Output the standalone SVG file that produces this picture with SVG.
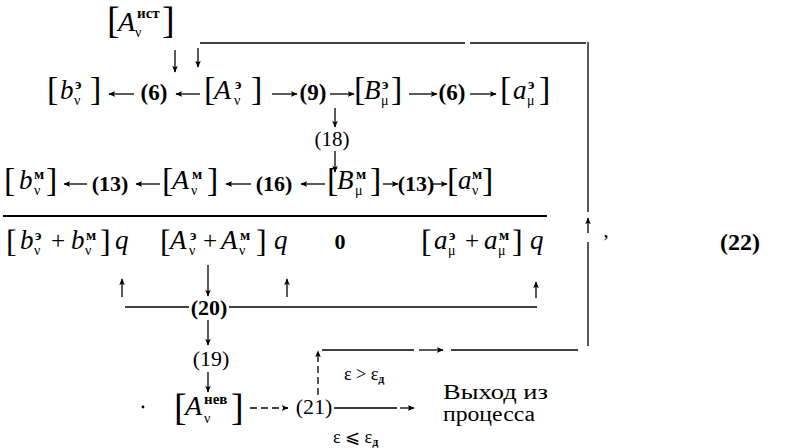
<svg xmlns="http://www.w3.org/2000/svg" width="793" height="448" viewBox="0 0 793 448">
<defs>
<marker id="ah" viewBox="0 0 10 10" refX="9" refY="5" markerWidth="7" markerHeight="7" markerUnits="userSpaceOnUse" orient="auto"><path d="M0,1 L10,5 L0,9 L2.5,5 z" fill="#000"/></marker>
<style>
text{font-family:"Liberation Serif","DejaVu Serif",serif;fill:#000}
.n{font-size:22px;font-weight:bold;text-anchor:middle}
.r{font-size:22px;text-anchor:middle}
.v{font-size:27px;font-style:italic}
.sp{font-size:15px;font-weight:bold}
.sb{font-size:14px}
.bk{font-size:34px}
.op{font-size:25px;text-anchor:middle}
.ln{stroke:#000;stroke-width:1.3;fill:none}
.ar{marker-end:url(#ah)}
.ds{stroke-dasharray:7 4}
.eps{font-size:18px}
.ru{font-size:20px}
</style>
</defs>
<rect width="793" height="448" fill="#fff"/>

<g id="A_ist"><text class="bk" x="107" y="33" style="font-size:38px">[</text><text class="v" x="118" y="31" style="font-size:28px">A</text><text class="sp" x="137" y="18">ист</text><text class="sb" x="135" y="37">ν</text><text class="bk" x="162" y="33" style="font-size:38px">]</text></g>

<g id="b_e"><text class="bk" x="47" y="100">[</text><text class="v" x="60" y="99">b</text><text class="sp" x="75" y="89">э</text><text class="sb" x="74" y="105">ν</text><text class="bk" x="90" y="100">]</text></g>
<g id="n6a"><text class="n" x="154" y="100" style="font-size:23px">(6)</text></g>
<g id="A_e"><text class="bk" x="204" y="100">[</text><text class="v" x="214" y="99" style="font-size:28px">A</text><text class="sp" x="235" y="89">э</text><text class="sb" x="234" y="105">ν</text><text class="bk" x="251" y="100">]</text></g>
<g id="n9"><text class="n" x="313" y="100" style="font-size:23px">(9)</text></g>
<g id="B_e"><text class="bk" x="354" y="100">[</text><text class="v" x="364" y="99">B</text><text class="sp" x="382" y="89">э</text><text class="sb" x="381" y="105">μ</text><text class="bk" x="391" y="100">]</text></g>
<g id="n6b"><text class="n" x="452" y="100" style="font-size:23px">(6)</text></g>
<g id="a_e"><text class="bk" x="500" y="100">[</text><text class="v" x="513" y="99">a</text><text class="sp" x="528" y="89">э</text><text class="sb" x="527" y="105">μ</text><text class="bk" x="539" y="100">]</text></g>

<g id="n18"><text class="r" x="332" y="146" style="font-size:21px">(18)</text></g>

<g id="b_m"><text class="bk" x="4" y="191">[</text><text class="v" x="19" y="189">b</text><text class="sp" x="34" y="179">м</text><text class="sb" x="34" y="195">ν</text><text class="bk" x="46" y="191">]</text></g>
<g id="n13a"><text class="n" x="110" y="191">(13)</text></g>
<g id="A_m"><text class="bk" x="162" y="191">[</text><text class="v" x="172" y="189" style="font-size:28px">A</text><text class="sp" x="192" y="179">м</text><text class="sb" x="191" y="195">ν</text><text class="bk" x="207" y="191">]</text></g>
<g id="n16"><text class="n" x="274" y="191">(16)</text></g>
<g id="B_m"><text class="bk" x="327" y="191">[</text><text class="v" x="337" y="189">B</text><text class="sp" x="356" y="179">м</text><text class="sb" x="355" y="195">μ</text><text class="bk" x="370" y="191">]</text></g>
<g id="n13b"><text class="n" x="416" y="191">(13)</text></g>
<g id="a_m"><text class="bk" x="447" y="191">[</text><text class="v" x="458" y="189">a</text><text class="sp" x="472" y="179">м</text><text class="sb" x="472" y="195">ν</text><text class="bk" x="482" y="191">]</text></g>

<g id="bar"><line x1="3" y1="216" x2="547" y2="216" stroke="#000" stroke-width="2.2"/></g>

<g id="sum_b"><text class="bk" x="6" y="252" style="font-size:32px">[</text><text class="v" x="20" y="249">b</text><text class="sp" x="35" y="240">э</text><text class="sb" x="34" y="255">ν</text><text class="op" x="58" y="249">+</text><text class="v" x="71" y="249">b</text><text class="sp" x="86" y="240">м</text><text class="sb" x="85" y="255">ν</text><text class="bk" x="100" y="252" style="font-size:32px">]</text><text class="v" x="115" y="249">q</text></g>
<g id="sum_A"><text class="bk" x="160" y="252" style="font-size:32px">[</text><text class="v" x="170" y="249">A</text><text class="sp" x="190" y="240">э</text><text class="sb" x="189" y="255">ν</text><text class="op" x="210" y="249">+</text><text class="v" x="221" y="249">A</text><text class="sp" x="240" y="240">м</text><text class="sb" x="239" y="255">ν</text><text class="bk" x="256" y="252" style="font-size:32px">]</text><text class="v" x="274" y="249">q</text></g>
<g id="zero"><text class="n" x="340" y="249">0</text></g>
<g id="sum_a"><text class="bk" x="421" y="252" style="font-size:32px">[</text><text class="v" x="434" y="249">a</text><text class="sp" x="449" y="240">э</text><text class="sb" x="448" y="255">μ</text><text class="op" x="472" y="249">+</text><text class="v" x="484" y="249">a</text><text class="sp" x="499" y="240">м</text><text class="sb" x="498" y="255">μ</text><text class="bk" x="512" y="252" style="font-size:32px">]</text><text class="v" x="530" y="249">q</text></g>

<g id="n20"><text class="n" x="209" y="315">(20)</text></g>
<g id="n19"><text class="r" x="211" y="366">(19)</text></g>
<g id="dot"><circle cx="143" cy="407" r="1.4" fill="#000"/></g>
<g id="A_nev"><text class="bk" x="174" y="420" style="font-size:38px">[</text><text class="v" x="185" y="415" style="font-size:28px">A</text><text class="sp" x="204" y="404">нев</text><text class="sb" x="204" y="423">ν</text><text class="bk" x="231" y="420" style="font-size:38px">]</text></g>
<g id="n21"><text class="r" x="314" y="414">(21)</text></g>
<g id="exit"><text class="ru" x="443" y="399" textLength="105" lengthAdjust="spacingAndGlyphs">Выход  из</text><text class="ru" x="443" y="421" textLength="92" lengthAdjust="spacingAndGlyphs">процесса</text></g>
<g id="eq22"><text class="n" x="740" y="250" style="font-size:24px">(22)</text><text class="r" x="606" y="237">,</text></g>
<g id="lbl_gt"><text class="eps" x="344" y="380">ε &gt; ε<tspan font-size="12" font-weight="bold" dy="3">д</tspan></text></g>
<g id="lbl_le"><text class="eps" x="333" y="443">ε ⩽ ε<tspan font-size="12" font-weight="bold" dy="3">д</tspan></text></g>

<g id="connectors">
<line class="ln ar" x1="175" y1="50" x2="175" y2="72"/>
<line class="ln ar" x1="198" y1="48" x2="198" y2="67"/>
<line class="ln" x1="200" y1="43" x2="465" y2="43"/>
<line class="ln" x1="470" y1="43" x2="586" y2="43"/>
<line class="ln" x1="588" y1="42" x2="588" y2="212"/>
<line class="ln ar" x1="588" y1="233" x2="588" y2="218"/>
<line class="ln" x1="588" y1="242" x2="588" y2="346"/>

<line class="ln ar" x1="134" y1="94" x2="109" y2="94"/>
<line class="ln ar" x1="200" y1="94" x2="176" y2="94"/>
<line class="ln ar" x1="272" y1="94" x2="297" y2="94"/>
<line class="ln ar" x1="330" y1="94" x2="354" y2="94"/>
<line class="ln ar" x1="409" y1="94" x2="437" y2="94"/>
<line class="ln ar" x1="470" y1="94" x2="496" y2="94"/>

<line class="ln ar" x1="335" y1="108" x2="335" y2="127"/>
<line class="ln ar" x1="335" y1="151" x2="335" y2="172"/>

<line class="ln ar" x1="87" y1="184" x2="64" y2="184"/>
<line class="ln ar" x1="160" y1="184" x2="136" y2="184"/>
<line class="ln ar" x1="251" y1="184" x2="226" y2="184"/>
<line class="ln ar" x1="325" y1="184" x2="301" y2="184"/>
<line class="ln ar" x1="383" y1="184" x2="398" y2="184"/>
<line class="ln ar" x1="433" y1="184" x2="447" y2="184"/>

<line class="ln ar" x1="122" y1="297" x2="122" y2="279"/>
<line class="ln ar" x1="287" y1="297" x2="287" y2="279"/>
<line class="ln ar" x1="536" y1="298" x2="536" y2="282"/>
<line class="ln ar" x1="208" y1="265" x2="208" y2="296"/>
<line class="ln" x1="125" y1="307" x2="189" y2="307"/>
<line class="ln" x1="229" y1="307" x2="537" y2="307"/>

<line class="ln ar" x1="208" y1="320" x2="208" y2="345"/>
<line class="ln ar" x1="208" y1="372" x2="208" y2="392"/>

<line class="ln ar ds" x1="250" y1="408" x2="288" y2="408"/>
<line class="ln ar ds" x1="318" y1="395" x2="318" y2="351"/>
<line class="ln" x1="322" y1="350" x2="414" y2="350"/>
<line class="ln ar" x1="419" y1="350" x2="443" y2="350"/>
<line class="ln" x1="451" y1="350" x2="578" y2="350"/>
<line class="ln" x1="334" y1="408" x2="397" y2="408"/>
<line class="ln ar" x1="400" y1="408" x2="414" y2="408"/>
</g>
</svg>
